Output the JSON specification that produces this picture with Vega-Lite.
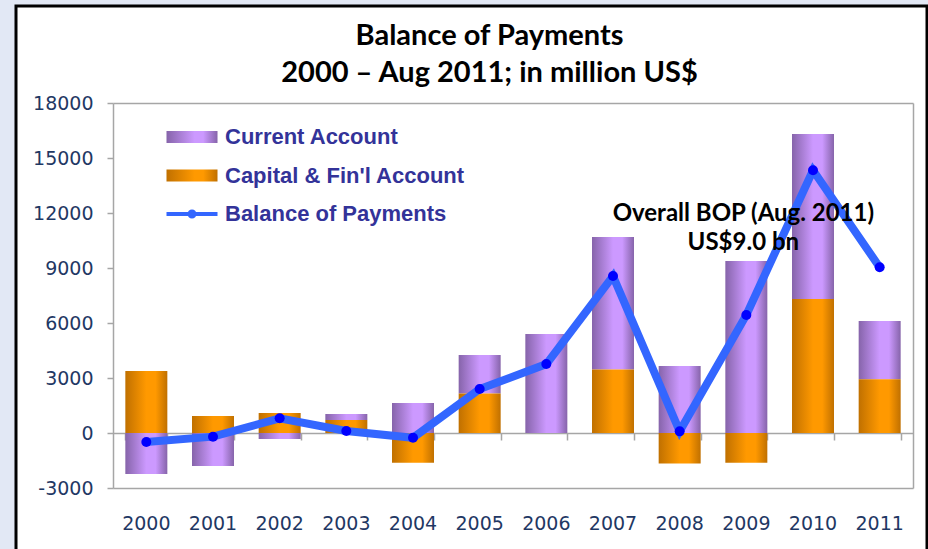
{
  "$schema": "https://vega.github.io/schema/vega-lite/v6.json",
  "width": 911,
  "height": 545,
  "autosize": {"type": "none"},
  "padding": {"left": 16, "top": 6, "right": 1, "bottom": 0},
  "background": "#E2E8F5",
  "config": {
    "view": {"stroke": "#000000", "strokeWidth": 3, "fill": "#FFFFFF"},
    "axis": {"grid": false, "domainColor": "#A6A6A6", "tickColor": "#A6A6A6", "domainWidth": 1.5, "tickWidth": 1.5}
  },
  "title": {
    "text": ["Balance of Payments", "2000 – Aug 2011; in million US$"],
    "font": "Lato",
    "fontSize": 29,
    "fontWeight": "bold",
    "color": "#000000",
    "anchor": "middle",
    "frame": "group",
    "offset": -82,
    "dx": 18,
    "lineHeight": 37
  },
  "datasets": {
    "bars": [
      {"year": "2000", "series": "Current Account", "value": -2240},
      {"year": "2000", "series": "Capital & Fin'l Account", "value": 3380},
      {"year": "2001", "series": "Current Account", "value": -1800},
      {"year": "2001", "series": "Capital & Fin'l Account", "value": 930},
      {"year": "2002", "series": "Current Account", "value": -330},
      {"year": "2002", "series": "Capital & Fin'l Account", "value": 1090},
      {"year": "2003", "series": "Current Account", "value": 330},
      {"year": "2003", "series": "Capital & Fin'l Account", "value": 710},
      {"year": "2004", "series": "Current Account", "value": 1640},
      {"year": "2004", "series": "Capital & Fin'l Account", "value": -1620},
      {"year": "2005", "series": "Current Account", "value": 2090},
      {"year": "2005", "series": "Capital & Fin'l Account", "value": 2160},
      {"year": "2006", "series": "Current Account", "value": 5400},
      {"year": "2006", "series": "Capital & Fin'l Account", "value": 0},
      {"year": "2007", "series": "Current Account", "value": 7220},
      {"year": "2007", "series": "Capital & Fin'l Account", "value": 3470},
      {"year": "2008", "series": "Current Account", "value": 3650},
      {"year": "2008", "series": "Capital & Fin'l Account", "value": -1670},
      {"year": "2009", "series": "Current Account", "value": 9380},
      {"year": "2009", "series": "Capital & Fin'l Account", "value": -1620},
      {"year": "2010", "series": "Current Account", "value": 9000},
      {"year": "2010", "series": "Capital & Fin'l Account", "value": 7310},
      {"year": "2011", "series": "Current Account", "value": 3180},
      {"year": "2011", "series": "Capital & Fin'l Account", "value": 2930}
    ],
    "bop": [
      {"year": "2000", "series": "Balance of Payments", "value": -490},
      {"year": "2001", "series": "Balance of Payments", "value": -200},
      {"year": "2002", "series": "Balance of Payments", "value": 800},
      {"year": "2003", "series": "Balance of Payments", "value": 110},
      {"year": "2004", "series": "Balance of Payments", "value": -260},
      {"year": "2005", "series": "Balance of Payments", "value": 2400},
      {"year": "2006", "series": "Balance of Payments", "value": 3760},
      {"year": "2007", "series": "Balance of Payments", "value": 8560},
      {"year": "2008", "series": "Balance of Payments", "value": 90},
      {"year": "2009", "series": "Balance of Payments", "value": 6440},
      {"year": "2010", "series": "Balance of Payments", "value": 14330},
      {"year": "2011", "series": "Balance of Payments", "value": 9040}
    ],
    "notes": [
      {"year": "2009", "value": 11945, "label": "Overall BOP (Aug. 2011)\nUS$9.0 bn"}
    ]
  },
  "layer": [
    {
      "data": {"name": "bars"},
      "transform": [
        {"stack": "value", "groupby": ["year"], "sort": [{"field": "series", "order": "ascending"}], "as": ["v0", "v1"], "offset": "zero"},
        {"filter": "datum.series === 'Current Account'"}
      ],
      "mark": {"type": "bar", "color": {"gradient": "linear", "x1": 0, "y1": 0, "x2": 1, "y2": 0, "stops": [{"offset": 0, "color": "#8664AA"}, {"offset": 0.5, "color": "#CC99FF"}, {"offset": 0.72, "color": "#CC99FF"}, {"offset": 1, "color": "#8664AA"}]}},
      "encoding": {
        "x": {
          "field": "year", "type": "ordinal",
          "scale": {"range": [97, 897], "paddingInner": 0.37, "paddingOuter": 0.185},
          "axis": {"orient": "bottom", "offset": -118, "labels": false, "ticks": true, "tickSize": 7, "tickBand": "extent", "domain": true, "title": null, "zindex": 0}
        },
        "y": {
          "field": "v1", "type": "quantitative",
          "scale": {"domain": [-3000, 18000], "range": [482, 97], "nice": false, "zero": false},
          "axis": {"orient": "left", "offset": -97, "values": [-3000, 0, 3000, 6000, 9000, 12000, 15000, 18000], "labelExpr": "'' + datum.value", "labelFont": "DejaVu Sans", "labelFontSize": 19, "labelColor": "#1F3864", "tickSize": 6, "labelPadding": 14, "title": null, "domain": true, "ticks": true}
        },
        "y2": {"field": "v0"}
      }
    },
    {
      "data": {"name": "bars"},
      "transform": [
        {"stack": "value", "groupby": ["year"], "sort": [{"field": "series", "order": "ascending"}], "as": ["v0", "v1"], "offset": "zero"},
        {"filter": "datum.series === 'Capital & Fin\\'l Account'"}
      ],
      "mark": {"type": "bar", "color": {"gradient": "linear", "x1": 0, "y1": 0, "x2": 1, "y2": 0, "stops": [{"offset": 0, "color": "#C07000"}, {"offset": 0.5, "color": "#FF9900"}, {"offset": 0.72, "color": "#FF9900"}, {"offset": 1, "color": "#C07000"}]}},
      "encoding": {
        "x": {"field": "year", "type": "ordinal", "axis": null},
        "y": {"field": "v1", "type": "quantitative", "axis": null},
        "y2": {"field": "v0"}
      }
    },
    {
      "data": {"name": "bop"},
      "mark": {"type": "line", "strokeWidth": 8},
      "encoding": {
        "x": {
          "field": "year", "type": "ordinal",
          "axis": {"orient": "bottom", "offset": -63, "ticks": false, "domain": true, "labelFont": "DejaVu Sans", "labelFontSize": 19, "labelColor": "#1F3864", "labelPadding": 26, "labelAngle": 0, "title": null}
        },
        "y": {
          "field": "value", "type": "quantitative",
          "axis": {"orient": "right", "offset": -14, "labels": false, "ticks": false, "domain": true, "title": null}
        },
        "color": {
          "field": "series", "type": "nominal",
          "scale": {
            "domain": ["Current Account", "Capital & Fin'l Account", "Balance of Payments"],
            "range": ["#B088DD", "#EE8800", "#3366FF"]
          },
          "legend": {
            "orient": "none", "legendX": 161, "legendY": 116, "title": null, "padding": 0,
            "labelFont": "Liberation Sans", "labelFontSize": 22, "labelFontWeight": "bold", "labelColor": "#333399", "labelLimit": 400,
            "symbolSize": 900, "labelOffset": 18, "rowPadding": 12.5, "symbolStrokeWidth": 0,
            "encode": {
              "symbols": {
                "update": {
                  "shape": [
                    {"test": "datum.value === 'Balance of Payments'", "value": "M-1.7,-0.13H1.7V0.13H-1.7Z M0.3,0A0.3,0.3 0 1,1 -0.3,0A0.3,0.3 0 1,1 0.3,0Z"},
                    {"value": "M-1.7,-0.4H1.7V0.4H-1.7Z"}
                  ],
                  "fill": [
                    {"test": "datum.value === 'Current Account'", "value": {"gradient": "linear", "x1": 0, "y1": 0, "x2": 1, "y2": 0, "stops": [{"offset": 0, "color": "#8664AA"}, {"offset": 0.55, "color": "#CC99FF"}, {"offset": 0.72, "color": "#CC99FF"}, {"offset": 1, "color": "#8664AA"}]}},
                    {"test": "datum.value === 'Balance of Payments'", "value": "#3366FF"},
                    {"value": {"gradient": "linear", "x1": 0, "y1": 0, "x2": 1, "y2": 0, "stops": [{"offset": 0, "color": "#C07000"}, {"offset": 0.55, "color": "#FF9900"}, {"offset": 0.72, "color": "#FF9900"}, {"offset": 1, "color": "#C07000"}]}}
                  ],
                  "stroke": {"value": "transparent"},
                  "opacity": {"value": 1},
                  "fillOpacity": {"value": 1}
                }
              }
            }
          }
        }
      }
    },
    {
      "data": {"name": "bop"},
      "mark": {"type": "point", "filled": true, "size": 100, "color": "#0000FF", "opacity": 1},
      "encoding": {
        "x": {
          "field": "year", "type": "ordinal",
          "axis": {"orient": "top", "offset": -97, "labels": false, "ticks": false, "domain": true, "title": null}
        },
        "y": {"field": "value", "type": "quantitative", "axis": null}
      }
    },
    {
      "data": {"name": "notes"},
      "mark": {"type": "text", "font": "Lato", "fontSize": 24, "fontWeight": "bold", "color": "#000000", "lineBreak": "\n", "lineHeight": 29, "baseline": "middle", "align": "center", "dx": -3},
      "encoding": {
        "x": {"field": "year", "type": "ordinal", "axis": null},
        "y": {"field": "value", "type": "quantitative", "axis": null},
        "text": {"field": "label"}
      }
    }
  ],
  "resolve": {"axis": {"x": "independent", "y": "independent"}}
}
